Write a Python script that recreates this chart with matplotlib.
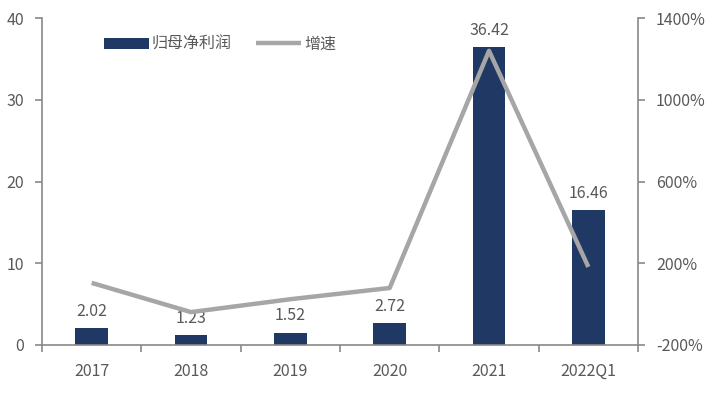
import matplotlib
matplotlib.use("Agg")
import matplotlib.pyplot as plt
from matplotlib.ticker import FuncFormatter

plt.rcParams['font.family'] = ['Noto Sans CJK SC', 'DejaVu Sans']

# Données
categories = ['2017', '2018', '2019', '2020', '2021', '2022Q1']
profit = [2.02, 1.23, 1.52, 2.72, 36.42, 16.46]     # 归母净利润 (亿元)
growth = [104, -39, 24, 79, 1240, 182]               # 增速 (%)

BAR_COLOR = '#1F3864'
LINE_COLOR = '#A6A6A6'
AXIS_COLOR = '#898989'
TEXT_COLOR = '#595959'

fig = plt.figure(figsize=(7.06, 3.94), dpi=100)
ax = fig.add_axes([0.0595, 0.1244, 0.8442, 0.8296])
ax2 = ax.twinx()

x = list(range(len(categories)))
bars = ax.bar(x, profit, width=0.33, color=BAR_COLOR, label='归母净利润', zorder=2)
line, = ax2.plot(x, growth, color=LINE_COLOR, lw=3.2, label='增速',
                 solid_capstyle='butt', zorder=3)

# Étiquettes au-dessus des barres
for xi, v in zip(x, profit):
    ax.text(xi, v + 1.0, f'{v:.2f}', ha='center', va='bottom',
            fontsize=11.5, color=TEXT_COLOR, zorder=4)

ax.set_xlim(-0.5, len(categories) - 0.5)
ax.set_ylim(0, 40)
ax.set_yticks([0, 10, 20, 30, 40])
ax2.set_ylim(-200, 1400)
ax2.set_yticks([-200, 200, 600, 1000, 1400])
ax2.yaxis.set_major_formatter(FuncFormatter(lambda v, p: f'{v:.0f}%'))

# Ticks de l'axe x entre les catégories
ax.set_xticks([i + 0.5 for i in range(-1, len(categories))], minor=False)
ax.set_xticklabels([''] * (len(categories) + 1))
ax.set_xticks(x, minor=True)
ax.set_xticklabels(categories, minor=True)

for a in (ax, ax2):
    for s in a.spines.values():
        s.set_visible(False)
    a.tick_params(which='both', labelsize=11.5, labelcolor=TEXT_COLOR,
                  color=AXIS_COLOR, width=1.2)

ax.tick_params(axis='x', which='minor', length=0, pad=13)
ax.tick_params(axis='x', which='major', length=5, direction='out')

ax.spines['left'].set_visible(True)
ax.spines['bottom'].set_visible(True)
ax2.spines['right'].set_visible(True)
for s in (ax.spines['left'], ax.spines['bottom'], ax2.spines['right']):
    s.set_color(AXIS_COLOR)
    s.set_linewidth(1.2)

ax.tick_params(axis='y', length=5, pad=8)
ax2.tick_params(axis='y', length=5, pad=8)

ax.legend([bars, line], ['归母净利润', '增速'], loc='upper left',
          bbox_to_anchor=(0.08, 0.99), ncol=2, frameon=False,
          fontsize=11.5, labelcolor=TEXT_COLOR, handlelength=2.8,
          handletextpad=0.2, columnspacing=1.5)

fig.savefig('out.png', dpi=100)
